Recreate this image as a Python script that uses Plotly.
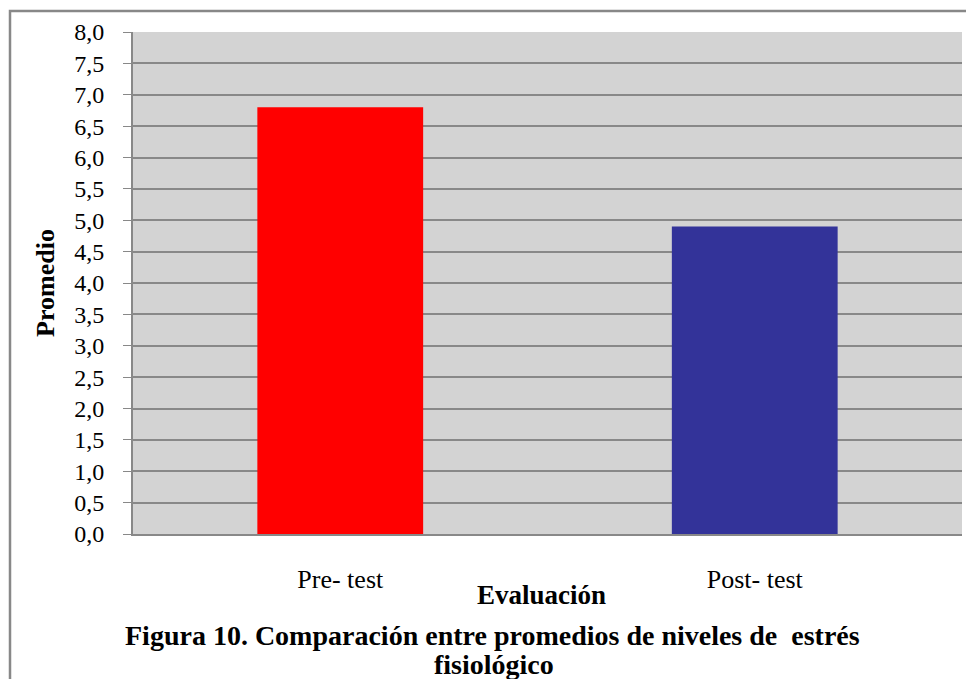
import plotly.graph_objects as go

# data
evaluacion = ["Pre- test", "Post- test"]
promedio = [6.8, 4.9]
bar_colors = ["#ff0000", "#333399"]
y_ticks = [i * 0.5 for i in range(17)]

serif = "Liberation Serif, Times New Roman, serif"

fig = go.Figure()
fig.add_trace(
    go.Bar(
        x=evaluacion,
        y=promedio,
        marker=dict(color=bar_colors, line=dict(width=0)),
        width=0.4,
    )
)

# page body has an 8px margin, so the figure is 8px smaller each way
fig.update_layout(
    width=966,
    height=671,
    margin=dict(l=125, r=12, t=24, b=145),
    paper_bgcolor="white",
    plot_bgcolor="#d3d3d3",
    separators=",.",
    showlegend=False,
    font=dict(family=serif, size=24, color="black"),
)

fig.update_yaxes(
    range=[0, 8],
    tickvals=y_ticks,
    tickformat=".1f",
    showgrid=True,
    gridcolor="#888888",
    gridwidth=1.5,
    showline=True,
    linecolor="#888888",
    linewidth=2,
    ticks="outside",
    ticklen=8,
    tickcolor="#888888",
    ticklabelstandoff=14,
    tickfont=dict(family=serif, size=24),
    zeroline=False,
    title=dict(text="<b>Promedio</b>", font=dict(family=serif, size=26), standoff=12),
)
fig.update_xaxes(
    showline=True,
    linecolor="#888888",
    linewidth=2,
    ticks="",
    ticklabelstandoff=21,
    tickfont=dict(family=serif, size=26),
)

# x axis title and figure caption
fig.add_annotation(
    text="<b>Evaluación</b>", xref="paper", yref="paper",
    x=(541 - 133) / 829, y=(534 - 595) / 502,
    showarrow=False, font=dict(family=serif, size=27),
    xanchor="center", yanchor="middle",
)
fig.add_annotation(
    text="<b>Figura 10. Comparación entre promedios de niveles de  estrés</b>",
    xref="paper", yref="paper",
    x=(492 - 133) / 829, y=(534 - 635) / 502,
    showarrow=False, font=dict(family=serif, size=28),
    xanchor="center", yanchor="middle",
)
fig.add_annotation(
    text="<b>fisiológico</b>",
    xref="paper", yref="paper",
    x=(494 - 133) / 829, y=(534 - 664) / 502,
    showarrow=False, font=dict(family=serif, size=28),
    xanchor="center", yanchor="middle",
)

# outer frame
fig.add_shape(
    type="rect", xref="paper", yref="paper",
    x0=(10 - 133) / 829, y0=(534 - 11) / 502,
    x1=1.2, y1=-0.5,
    line=dict(color="#888888", width=2.5),
    layer="below",
)

fig.write_html("out.html")
